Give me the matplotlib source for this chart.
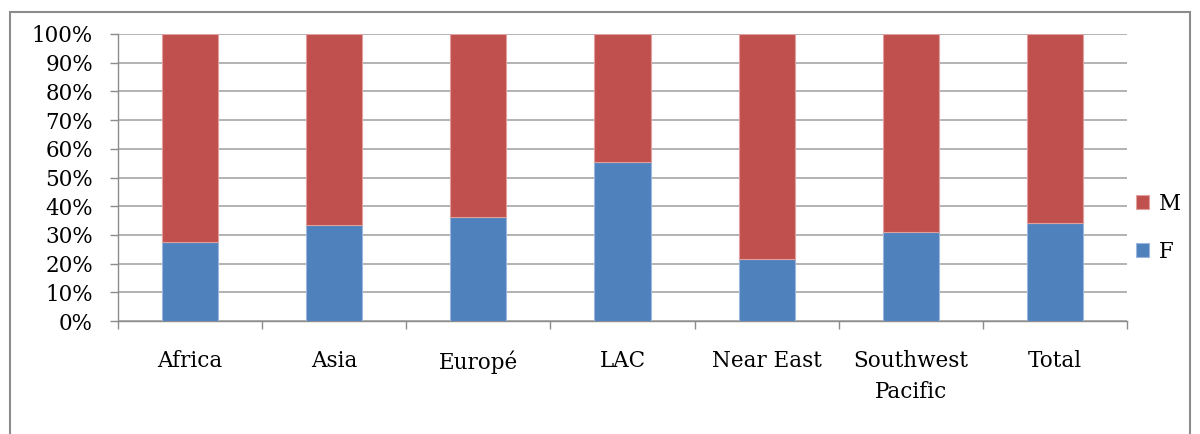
import numpy as np
import matplotlib.pyplot as plt
from matplotlib.patches import Rectangle

categories = ["Africa", "Asia", "Europé", "LAC", "Near East", "Southwest\nPacific", "Total"]
female = [27.5, 33.3, 36.3, 55.4, 21.5, 31.1, 34.1]
male = [100 - f for f in female]
yticks = [0, 10, 20, 30, 40, 50, 60, 70, 80, 90, 100]

plt.rcParams['font.family'] = ['DejaVu Serif']

fig = plt.figure(figsize=(12, 4.34), dpi=100)
fig.patches.append(Rectangle((10 / 1200, -0.1), 1180 / 1200, 1.1 - 12 / 434,
                             transform=fig.transFigure, fill=False,
                             edgecolor='#8c8c8c', linewidth=1.5))
ax = fig.add_axes([118 / 1200, 113 / 434, 1009 / 1200, 287 / 434])

x = np.arange(len(categories))
ax.bar(x, female, width=0.39, color='#4F81BD', edgecolor='#9bb7dd', linewidth=0.8, label='F', zorder=3)
ax.bar(x, male, width=0.39, bottom=female, color='#C0504D', edgecolor='#e0a09e', linewidth=0.8, label='M', zorder=3)

ax.set_xlim(-0.5, len(categories) - 0.5)
ax.set_ylim(0, 100)
ax.set_yticks(yticks)
ax.set_yticklabels([f"{v}%" for v in yticks], fontsize=15.5)
ax.yaxis.grid(True, color='#a6a6a6', linewidth=1.2, zorder=0)

ax.set_xticks(x)
ax.set_xticklabels(categories, fontsize=15.5, linespacing=1.5)
ax.set_xticks(np.arange(len(categories) + 1) - 0.5, minor=True)
ax.tick_params(axis='x', which='major', length=0, pad=21)
ax.tick_params(axis='x', which='minor', length=6, color='#8c8c8c', width=1)
ax.tick_params(axis='y', length=6, color='#8c8c8c', width=1, pad=12)

for s in ['top', 'right']:
    ax.spines[s].set_visible(False)
for s in ['left', 'bottom']:
    ax.spines[s].set_color('#8c8c8c')
    ax.spines[s].set_linewidth(1)

handles, labels = ax.get_legend_handles_labels()
ax.legend(handles[::-1], labels[::-1], loc='center left', bbox_to_anchor=(0.99, 0.325),
          frameon=False, fontsize=15.5, handlelength=0.6, handleheight=0.6,
          labelspacing=1.2, handletextpad=0.45)

fig.savefig('out.png', dpi=100)
